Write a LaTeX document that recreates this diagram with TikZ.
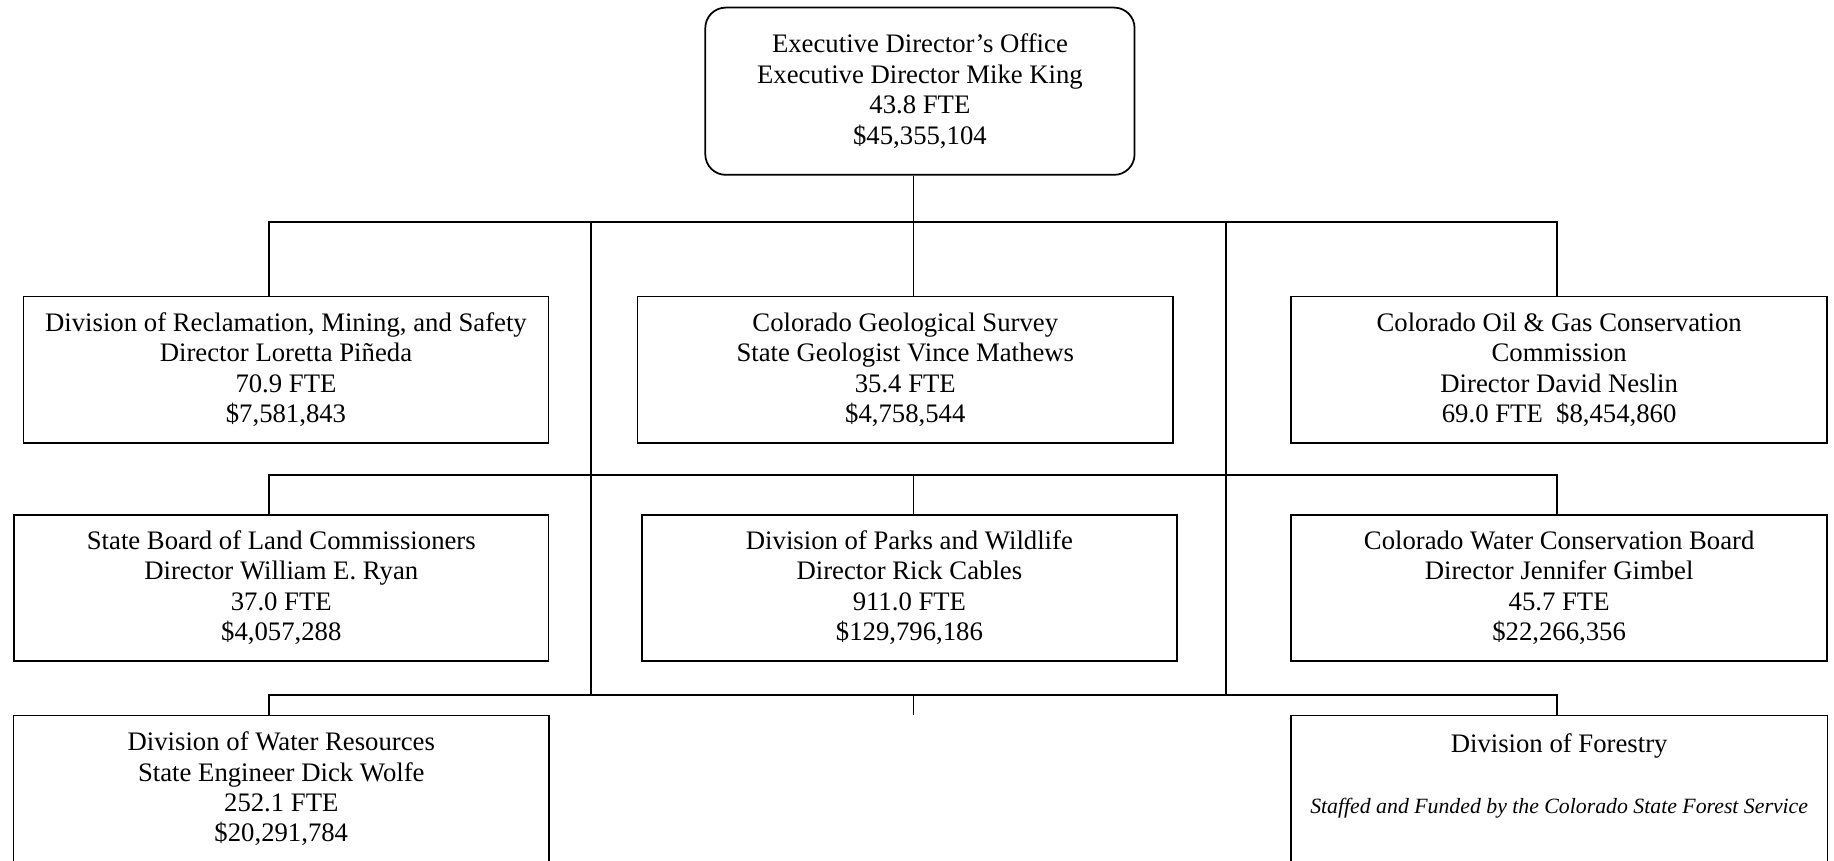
\documentclass[tikz,border=0pt]{standalone}
\usepackage{fontspec}
\setmainfont{Liberation Serif}
\usepackage{tikz}
\usetikzlibrary{calc}

\begin{document}
\begin{tikzpicture}[
    wire/.style={line width=0.85pt},
    orgbox/.style={draw, line width=0.85pt, minimum height=2.5cm, align=center, inner sep=2pt, font=\fontsize{13}{14.8}\selectfont},
    openbox/.style={minimum height=2.5cm, align=center, inner sep=2pt, font=\fontsize{13}{14.8}\selectfont}
  ]
  \useasboundingbox (0,0) rectangle (31.36,14.72);
  \clip (0,0) rectangle (31.36,14.72);

  % Executive office
  \node[orgbox, rounded corners=0.35cm, minimum width=7.34cm, minimum height=2.86cm] (exec) at (15.73, 13.16) {Executive Director’s Office\\Executive Director Mike King\\43.8 FTE\\\$45,355,104};

  % First row
  \node[orgbox, minimum width=8.98cm] (recl) at (4.89, 8.4) {Division of Reclamation, Mining, and Safety\\Director Loretta Piñeda\\70.9 FTE\\\$7,581,843};
  \node[orgbox, minimum width=9.16cm] (geo) at (15.48, 8.4) {Colorado Geological Survey\\State Geologist Vince Mathews\\35.4 FTE\\\$4,758,544};
  \node[orgbox, minimum width=9.16cm] (oilgas) at (26.66, 8.4) {Colorado Oil \& Gas Conservation\\Commission\\Director David Neslin\\69.0 FTE\ \ \$8,454,860};

  % Second row
  \node[orgbox, minimum width=9.14cm] (land) at (4.81, 4.67) {State Board of Land Commissioners\\Director William E. Ryan\\37.0 FTE\\\$4,057,288};
  \node[orgbox, minimum width=9.14cm] (parks) at (15.55, 4.67) {Division of Parks and Wildlife\\Director Rick Cables\\911.0 FTE\\\$129,796,186};
  \node[orgbox, minimum width=9.16cm] (cwcb) at (26.66, 4.67) {Colorado Water Conservation Board\\Director Jennifer Gimbel\\45.7 FTE\\\$22,266,356};

  % Third row (cut off at the bottom)
  \node[openbox, minimum width=9.14cm] (water) at (4.81, 1.23) {Division of Water Resources\\State Engineer Dick Wolfe\\252.1 FTE\\\$20,291,784};
  \node[openbox, minimum width=9.16cm] (forest) at (26.66, 1.23) {Division of Forestry\\\mbox{}\\{\fontsize{10.6}{12}\selectfont\itshape Staffed and Funded by the Colorado State Forest Service}\\\mbox{}};
  \draw[wire] ([yshift=-1cm]water.south west) |- (water.north east) -- ([yshift=-1cm]water.south east);
  \draw[wire] ([yshift=-1cm]forest.south west) |- (forest.north east) -- ([yshift=-1cm]forest.south east);

  % Buses
  \coordinate (b1) at (15.62, 10.92);
  \coordinate (b2) at (15.62, 6.6);
  \coordinate (b3) at (15.62, 2.84);
  \coordinate (colL) at (4.6, 0);
  \coordinate (colR) at (26.62, 0);
  \coordinate (tl) at (10.1, 10.92);
  \coordinate (tr) at (20.96, 10.92);

  \draw[wire] (exec.south -| b1) -- (b1);
  \draw[wire] (recl.north -| colL) |- (b1) -| (oilgas.north -| colR);
  \draw[wire] (b1) -- (geo.north -| b1);
  \draw[wire] (land.north -| colL) |- (b2) -| (cwcb.north -| colR);
  \draw[wire] (b2) -- (parks.north -| b2);
  \draw[wire] (water.north -| colL) |- (b3) -| (forest.north -| colR);
  \draw[wire] (b3) -- (water.north -| b3);
  \draw[wire] (tl) -- (tl |- b3);
  \draw[wire] (tr) -- (tr |- b3);
\end{tikzpicture}
\end{document}
